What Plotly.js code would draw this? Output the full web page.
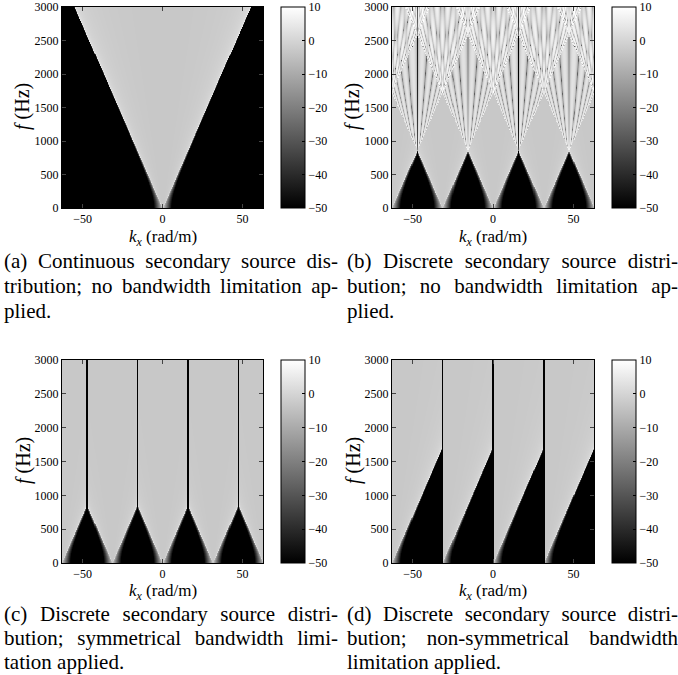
<!DOCTYPE html>
<html><head><meta charset="utf-8">
<script src="https://cdn.plot.ly/plotly-3.0.1.min.js"></script>
<style>body{margin:0;background:#fff}</style>
</head><body>
<div id="chart" style="width:678px;height:675px"></div>
<script>
// ---- values ----
const kxRange = [-62.83, 62.83];          // rad/m
const fRange = [0, 3000];                 // Hz
const speedOfSound = [343];               // m/s
const repetitionSpacing = [31.42];        // rad/m, spectral repetition period (2*pi/dx, dx = 0.2 m)
const repetitionOrders = [-3, -2, -1, 0, 1, 2, 3];
const decayDistance = [1.0];              // m, evanescent decay
const phaseDistance = [1.3];              // m, propagation phase
const propagatingLevelDb = [-3];          // dB inside the propagating cone
const bandEdgesC = [-47.12, -15.71, 15.71, 47.12];   // symmetrical band limits
const bandEdgesD = [-31.42, 0, 31.42];                // non-symmetrical band limits
const bandCentresC = [-62.83, -31.42, 0, 31.42, 62.83];
const bandLeftD = [-62.83, -31.42, 0, 31.42];
const xTicks = [-50, 0, 50];
const yTicks = [0, 500, 1000, 1500, 2000, 2500, 3000];
const cbTicks = [-50, -40, -30, -20, -10, 0, 10];
const cbRange = [-50, 10];
const xTitle = '<i>k<sub>x</sub></i> (rad/m)';
const yTitle = '<i>f</i> (Hz)';
const captionA = ['(a) Continuous secondary source dis-', 'tribution; no bandwidth limitation ap-', 'plied.'];
const captionB = ['(b) Discrete secondary source distri-', 'bution; no bandwidth limitation ap-', 'plied.'];
const captionC = ['(c) Discrete secondary source distri-', 'bution; symmetrical bandwidth limi-', 'tation applied.'];
const captionD = ['(d) Discrete secondary source distri-', 'bution; non-symmetrical bandwidth', 'limitation applied.'];

// ---- grid ----
const NX = 401, NY = 301;
const kx = [], fr = [];
for (let i = 0; i < NX; i++) kx.push(kxRange[0] + (kxRange[1] - kxRange[0]) * i / (NX - 1));
for (let j = 0; j < NY; j++) fr.push(fRange[0] + (fRange[1] - fRange[0]) * j / (NY - 1));

const c = speedOfSound[0], Ks = repetitionSpacing[0];
const rd = decayDistance[0], rp = phaseDistance[0], L0 = propagatingLevelDb[0];

function spec(kappa, k) {
  const q2 = kappa * kappa, k2 = k * k;
  if (q2 < k2) {
    const ky = Math.sqrt(k2 - q2);
    const amp = Math.min(Math.pow(k / Math.max(ky, 1e-9), 0.3), 2.0);
    return [amp * Math.cos(ky * rp), -amp * Math.sin(ky * rp)];
  }
  return [Math.exp(-Math.sqrt(q2 - k2) * rd), 0];
}
function toDb(re, im) {
  const m = Math.sqrt(re * re + im * im);
  return Math.max(-60, Math.min(14, L0 + 20 * Math.log10(m + 1e-12)));
}
function nearestDist(x, arr) { let d = 1e9; for (const e of arr) d = Math.min(d, Math.abs(x - e)); return d; }
const gap = 0.42;

const zA = [], zB = [], zC = [], zD = [];
for (let j = 0; j < NY; j++) {
  const k = 2 * Math.PI * fr[j] / c;
  const rA = [], rB = [], rC = [], rD = [];
  for (let i = 0; i < NX; i++) {
    const x = kx[i];
    let s = spec(x, k); rA.push(toDb(s[0], s[1]));
    let re = 0, im = 0;
    for (const n of repetitionOrders) {
      const t = spec(x - n * Ks, k), sg = (n % 2 === 0) ? 1 : -1;
      re += sg * t[0]; im += sg * t[1];
    }
    rB.push(toDb(re, im));
    let cc = bandCentresC[0];
    for (const b of bandCentresC) if (Math.abs(x - b) < Math.abs(x - cc)) cc = b;
    s = spec(x - cc, k);
    rC.push(nearestDist(x, bandEdgesC) < gap ? -60 : toDb(s[0], s[1]));
    let cl = bandLeftD[0];
    for (const b of bandLeftD) if (x >= b) cl = b;
    s = spec(x - cl, k);
    rD.push(nearestDist(x, bandEdgesD) < gap ? -60 : toDb(s[0], s[1]));
  }
  zA.push(rA); zB.push(rB); zC.push(rC); zD.push(rD);
}

// ---- layout ----
const W = 678, H = 675;
const FAM = '"Liberation Serif", "Times New Roman", Times, serif';
const gray = [[0, '#000000'], [1, '#ffffff']];
const px = v => v / W, py = v => 1 - v / H;
const colL = [px(62), px(263)], colR = [px(392), px(594)];
const rowT = [py(208), py(7)], rowB = [py(563), py(360)];

function heat(z, xa, ya, cbx, cby, cblen) {
  return {
    type: 'heatmap', x: kx, y: fr, z: z, xaxis: xa, yaxis: ya,
    colorscale: gray, zmin: cbRange[0], zmax: cbRange[1], zsmooth: false,
    hoverinfo: 'skip',
    colorbar: {
      x: cbx, xanchor: 'left', y: cby, yanchor: 'middle',
      len: cblen, lenmode: 'pixels', thickness: 24, thicknessmode: 'pixels',
      xpad: 0, ypad: 0, outlinewidth: 1, outlinecolor: '#000',
      tickvals: cbTicks, ticks: 'inside', ticklen: 3, tickcolor: '#000',
      tickfont: { family: FAM, size: 12, color: '#000' }
    }
  };
}
function xax(domain, anchor) {
  return {
    domain, anchor, range: kxRange, tickvals: xTicks, ticks: 'inside', ticklen: 4,
    mirror: 'ticks', showline: true, linecolor: '#000', linewidth: 1, zeroline: false, showgrid: false,
    tickfont: { family: FAM, size: 12, color: '#000' }
  };
}
function yax(domain, anchor) {
  return {
    domain, anchor, range: fRange, tickvals: yTicks, ticks: 'inside', ticklen: 4,
    mirror: 'ticks', showline: true, linecolor: '#000', linewidth: 1, zeroline: false, showgrid: false,
    tickfont: { family: FAM, size: 12, color: '#000' }
  };
}

const data = [
  heat(zA, 'x', 'y', px(281), py(107.5), 201),
  heat(zB, 'x2', 'y2', px(612), py(107.5), 201),
  heat(zC, 'x3', 'y3', px(281), py(461.5), 203),
  heat(zD, 'x4', 'y4', px(612), py(461.5), 203)
];

const annotations = [], justifyInfo = [];
function addText(text, x, y, size, extra) {
  annotations.push(Object.assign({
    text, xref: 'paper', yref: 'paper', x: px(x), y: py(y),
    xanchor: 'center', yanchor: 'middle', showarrow: false,
    font: { family: FAM, size, color: '#000' }
  }, extra || {}));
  justifyInfo.push(0);
}
// axis titles
addText(xTitle, 162.5, 238, 17);
addText(xTitle, 493, 238, 17);
addText(xTitle, 162.5, 592, 17);
addText(xTitle, 493, 592, 17);
addText(yTitle, 23, 107, 20, { textangle: -90 });
addText(yTitle, 353, 107, 20, { textangle: -90 });
addText(yTitle, 23, 461, 20, { textangle: -90 });
addText(yTitle, 353, 461, 20, { textangle: -90 });

function addCaption(lines, xLeft, yPx, target) {
  lines.forEach((t, i) => {
    annotations.push({
      text: t, xref: 'paper', yref: 'paper', x: px(xLeft), y: py(yPx[i]),
      xanchor: 'left', yanchor: 'middle', align: 'left', showarrow: false,
      font: { family: FAM, size: 21, color: '#000' }
    });
    justifyInfo.push(i < lines.length - 1 ? target : 0);
  });
}
const topY = [261, 286, 311], botY = [614, 638, 662];
addCaption(captionA, 2, topY, 334);
addCaption(captionB, 345, topY, 331);
addCaption(captionC, 2, botY, 334);
addCaption(captionD, 345, botY, 331);

const layout = {
  width: W, height: H, margin: { l: 0, r: 0, t: 0, b: 0 },
  paper_bgcolor: '#fff', plot_bgcolor: '#fff', showlegend: false,
  font: { family: FAM, color: '#000' },
  xaxis: xax(colL, 'y'), yaxis: yax(rowT, 'x'),
  xaxis2: xax(colR, 'y2'), yaxis2: yax(rowT, 'x2'),
  xaxis3: xax(colL, 'y3'), yaxis3: yax(rowB, 'x3'),
  xaxis4: xax(colR, 'y4'), yaxis4: yax(rowB, 'x4'),
  annotations
};

Plotly.newPlot('chart', data, layout, { staticPlot: true }).then(() => {
  justifyInfo.forEach((target, i) => {
    if (!target) return;
    const t = document.querySelector('g.annotation[data-index="' + i + '"] text.annotation-text');
    if (!t) return;
    const txt = t.textContent;
    const spaces = (txt.match(/ /g) || []).length;
    const w = t.getComputedTextLength();
    if (spaces > 0 && target > w) t.style.wordSpacing = ((target - w) / spaces) + 'px';
  });
});
</script>
</body></html>
